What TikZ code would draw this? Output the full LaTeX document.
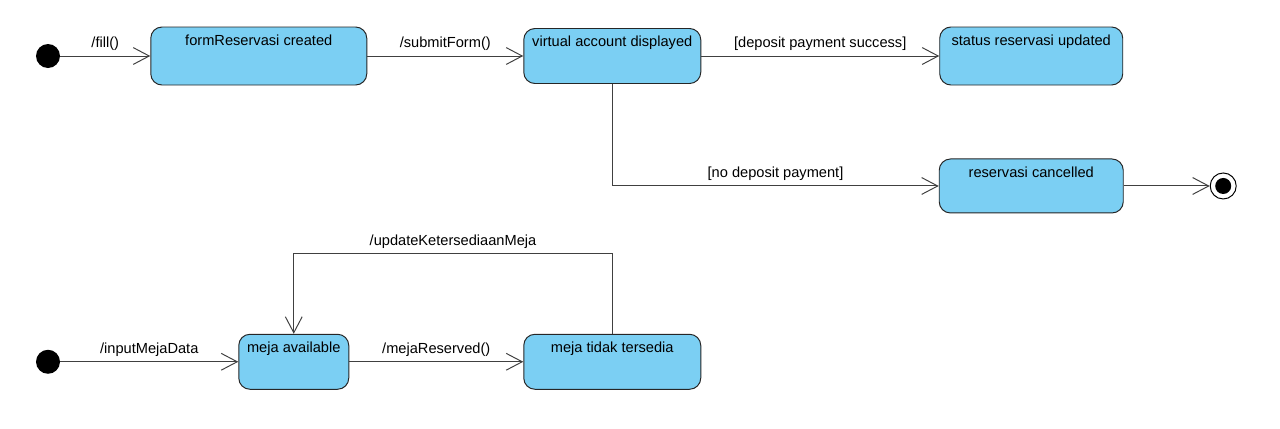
\documentclass[tikz,border=0pt]{standalone}
\usepackage{fontspec}
\setmainfont{Liberation Sans}
\usetikzlibrary{positioning}
\usetikzlibrary{arrows.meta}
\definecolor{stateblue}{RGB}{123,207,243}
\tikzstyle{statebox} = [rectangle, rounded corners=0.28cm,
minimum width=4.4cm,
minimum height=1.4cm,
draw=black!85, line width=0.7pt,
fill=stateblue]
\tikzstyle{startdot} = [circle, fill=black, inner sep=0pt, minimum size=0.6cm]
\tikzstyle{enddot} = [circle, draw=black, fill=white, line width=0.7pt,
inner sep=0pt, minimum size=0.65cm,
path picture={\fill[black] (path picture bounding box.center) circle (0.2cm);}]
\tikzstyle{arrow} = [draw=black!75, line width=0.7pt, -{Straight Barb[length=0.4cm,width=0.42cm]}]
\tikzset{boxtext/.style={label={[anchor=north, yshift=-0.08cm]north:#1}}}

\begin{document}
\begin{tikzpicture}[font=\fontsize{10.4}{12}\selectfont]
            \useasboundingbox (-1.2,1.4) rectangle (30.8,-9.3);
            % reservasi
            \node (start1) [startdot] at (0,0) {};
            \node (form) [statebox, right=2.25cm of start1, minimum width=5.4cm, minimum height=1.45cm, boxtext={formReservasi created}] {};
            \node (virtual) [statebox, right=3.9cm of form, minimum width=4.425cm, minimum height=1.375cm, boxtext={virtual account displayed}] {};
            \node (status) [statebox, right=5.95cm of virtual, minimum width=4.575cm, minimum height=1.45cm, boxtext={status reservasi updated}] {};
            \node (cancel) [statebox, below=1.825cm of status, minimum width=4.6cm, minimum height=1.35cm, boxtext={reservasi cancelled}] {};
            \node (final) [enddot, right=2.15cm of cancel] {};
            % meja
            \node (start2) [startdot, below=7.03cm of start1] {};
            \node (avail) [statebox, right=4.45cm of start2, minimum width=2.75cm, minimum height=1.375cm, boxtext={meja available}] {};
            \node (tidak) [statebox, right=4.35cm of avail, minimum width=4.425cm, minimum height=1.375cm, boxtext={meja tidak tersedia}] {};

            \draw [arrow] (start1) -- node[above] {/fill()} (form);
            \draw [arrow] (form) -- node[above] {/submitForm()} (virtual);
            \draw [arrow] (virtual) -- node[above] {[deposit payment success]} (status);
            \draw [arrow] (virtual.south) |- node[above, pos=0.75] {[no deposit payment]} (cancel.west);
            \draw [arrow] (cancel) -- (final);
            \draw [arrow] (start2) -- node[above] {/inputMejaData} (avail);
            \draw [arrow] (avail) -- node[above] {/mejaReserved()} (tidak);
            \draw [arrow] (tidak.north) -- ++(0,2cm) -| node[above, pos=0.25] {/updateKetersediaanMeja} (avail.north);
        \end{tikzpicture}
\end{document}
